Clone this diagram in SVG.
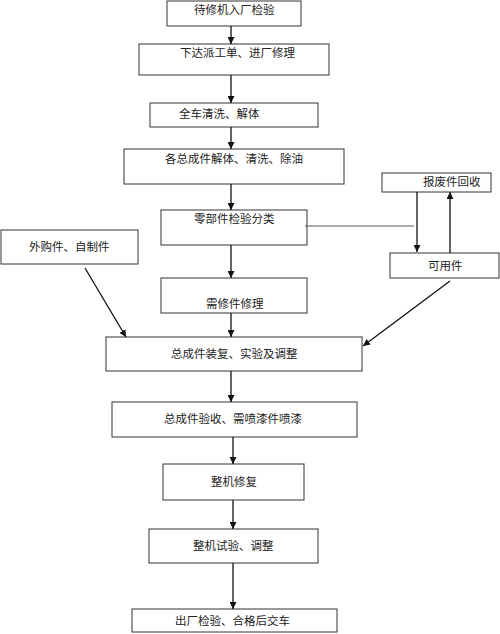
<svg xmlns="http://www.w3.org/2000/svg" width="500" height="634" viewBox="0 0 500 634">
<style>
.box{fill:#fff;stroke:#333;stroke-width:1}
.t{font-family:"Liberation Serif","Noto Sans CJK SC",serif;font-size:11.5px;fill:#222}
.c{stroke:#111;stroke-width:1.3;fill:none}
.g{stroke:#555;stroke-width:1;fill:none}
</style>
<defs>
<marker id="a" viewBox="0 0 10 10" refX="10" refY="5" markerWidth="7" markerHeight="7" markerUnits="userSpaceOnUse" orient="auto">
<path d="M0,0 L10,5 L0,10 Z" fill="#111"/>
</marker>
</defs>
<rect width="500" height="634" fill="#fff"/>
<g id="n1"><rect class="box" x="167" y="1" width="134" height="25"/><text class="t" x="194" y="14">待修机入厂检验</text></g>
<g id="n2"><rect class="box" x="139" y="44" width="190" height="31"/><text class="t" x="180" y="57">下达派工单、进厂修理</text></g>
<g id="n3"><rect class="box" x="150" y="103" width="168" height="24"/><text class="t" x="179" y="118">全车清洗、解体</text></g>
<g id="n4"><rect class="box" x="124" y="149" width="220" height="35"/><text class="t" x="165" y="163">各总成件解体、清洗、除油</text></g>
<g id="n5"><rect class="box" x="161" y="210" width="146" height="35"/><text class="t" x="194" y="223">零部件检验分类</text></g>
<g id="n6"><rect class="box" x="1" y="230" width="137" height="34"/><text class="t" x="29" y="251">外购件、自制件</text></g>
<g id="n7"><rect class="box" x="382" y="173" width="109" height="19"/><text class="t" x="423" y="186">报废件回收</text></g>
<g id="n8"><rect class="box" x="390" y="253" width="109" height="25"/><text class="t" x="428" y="270">可用件</text></g>
<g id="n9"><rect class="box" x="161" y="278" width="146" height="35"/><text class="t" x="206" y="308">需修件修理</text></g>
<g id="n10"><rect class="box" x="106" y="337" width="256" height="34"/><text class="t" x="171" y="358">总成件装复、实验及调整</text></g>
<g id="n11"><rect class="box" x="112" y="402" width="245" height="35"/><text class="t" x="164" y="423">总成件验收、需喷漆件喷漆</text></g>
<g id="n12"><rect class="box" x="163" y="464" width="141" height="36"/><text class="t" x="211" y="486">整机修复</text></g>
<g id="n13"><rect class="box" x="149" y="529" width="169" height="34"/><text class="t" x="193" y="550">整机试验、调整</text></g>
<g id="n14"><rect class="box" x="132" y="609" width="205" height="23"/><text class="t" x="175" y="625">出厂检验、合格后交车</text></g>
<g id="connectors">
<line class="c" x1="231" y1="26" x2="231" y2="44" marker-end="url(#a)"/>
<line class="c" x1="231" y1="75" x2="231" y2="103" marker-end="url(#a)"/>
<line class="c" x1="231" y1="127" x2="231" y2="149" marker-end="url(#a)"/>
<line class="c" x1="231" y1="184" x2="231" y2="210" marker-end="url(#a)"/>
<line class="c" x1="231" y1="245" x2="231" y2="278" marker-end="url(#a)"/>
<line class="c" x1="231" y1="313" x2="231" y2="337" marker-end="url(#a)"/>
<line class="c" x1="231" y1="371" x2="231" y2="402" marker-end="url(#a)"/>
<line class="c" x1="233" y1="437" x2="233" y2="464" marker-end="url(#a)"/>
<line class="c" x1="233" y1="500" x2="233" y2="529" marker-end="url(#a)"/>
<line class="c" x1="233" y1="563" x2="233" y2="609" marker-end="url(#a)"/>
<line class="g" x1="305" y1="226" x2="414" y2="226"/>
<line class="c" x1="417" y1="192" x2="417" y2="252" marker-end="url(#a)"/>
<line class="c" x1="450" y1="253" x2="450" y2="192" marker-end="url(#a)"/>
<line class="c" x1="85" y1="268" x2="126" y2="337" marker-end="url(#a)"/>
<line class="c" x1="450" y1="281" x2="363" y2="346" marker-end="url(#a)"/>
</g>
</svg>
